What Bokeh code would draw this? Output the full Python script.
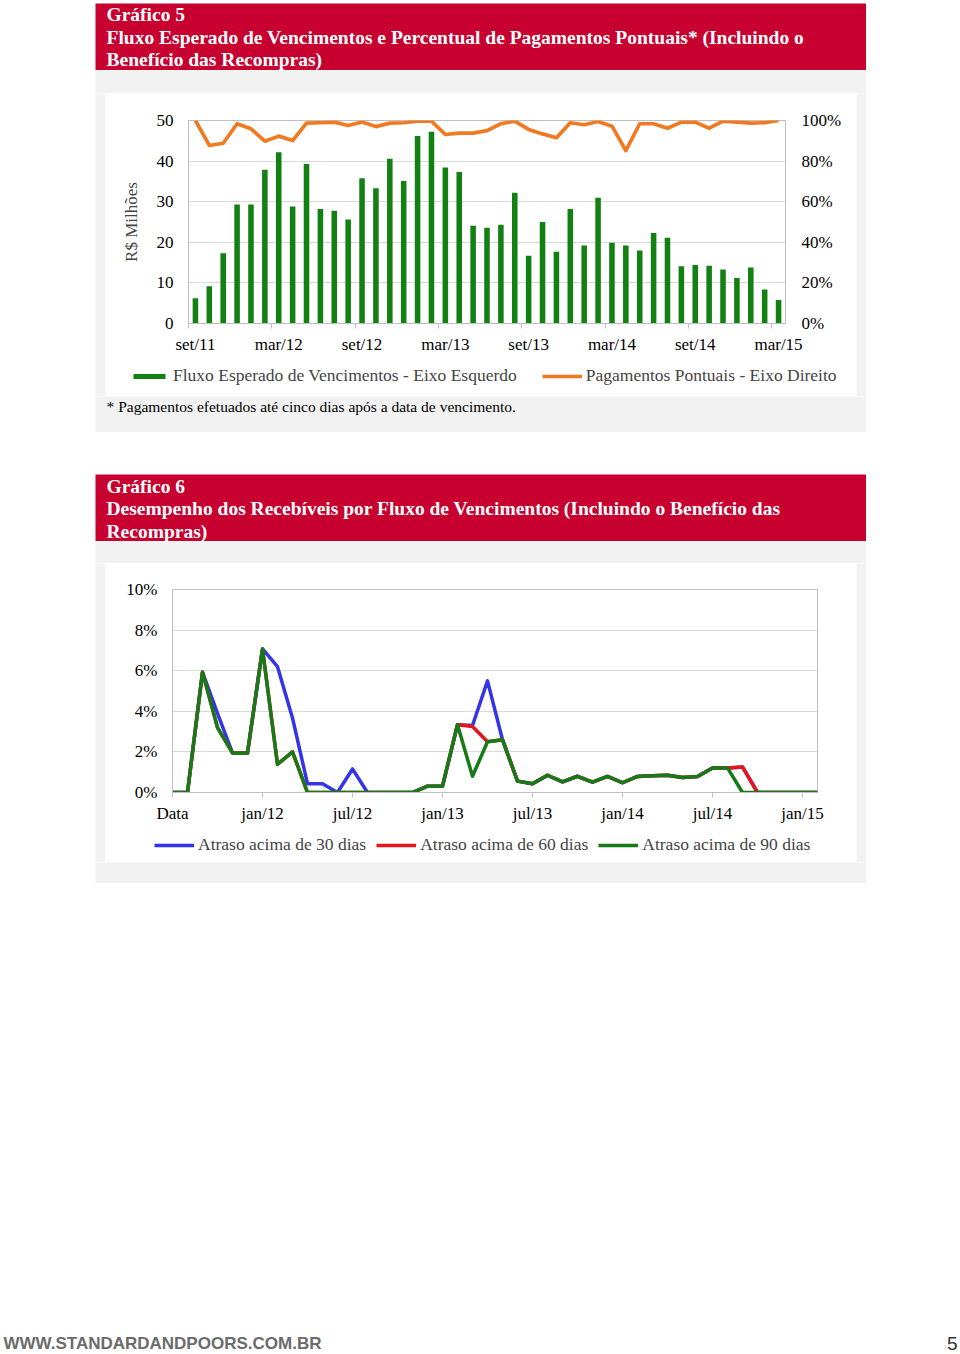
from bokeh.plotting import figure
from bokeh.models import (Range1d, LinearAxis, FixedTicker, PrintfTickFormatter, Legend,
                          LegendItem, Label, Spacer, ColumnDataSource)
from bokeh.layouts import column, row
from bokeh.embed import file_html
from bokeh.resources import INLINE
from bokeh.core.validation import silence
from bokeh.core.validation.warnings import MISSING_RENDERERS

silence(MISSING_RENDERERS, True)

# ---------------- data: Gráfico 5 ----------------
months_5 = ["set/11", "out/11", "nov/11", "dez/11", "jan/12", "fev/12", "mar/12", "abr/12", "mai/12",
            "jun/12", "jul/12", "ago/12", "set/12", "out/12", "nov/12", "dez/12", "jan/13", "fev/13",
            "mar/13", "abr/13", "mai/13", "jun/13", "jul/13", "ago/13", "set/13", "out/13", "nov/13",
            "dez/13", "jan/14", "fev/14", "mar/14", "abr/14", "mai/14", "jun/14", "jul/14", "ago/14",
            "set/14", "out/14", "nov/14", "dez/14", "jan/15", "fev/15", "mar/15"]
fluxo = [6.2, 9.2, 17.3, 29.3, 29.3, 37.9, 42.2, 28.8, 39.3, 28.2, 27.8, 25.6, 35.8, 33.3, 40.6,
         35.1, 46.2, 47.2, 38.4, 37.3, 24.1, 23.6, 24.3, 32.2, 16.7, 25.0, 17.7, 28.2, 19.2, 31.0,
         19.9, 19.2, 18.0, 22.3, 21.1, 14.1, 14.4, 14.2, 13.3, 11.2, 13.8, 8.4, 5.8]
pontuais = [100, 87.7, 88.8, 98.4, 95.9, 89.8, 92.3, 90.1, 98.7, 98.9, 99.2, 97.5, 99.3, 97.0, 98.7,
            98.9, 99.7, 99.7, 93.1, 93.8, 93.8, 95.0, 98.4, 99.7, 95.6, 93.4, 91.5, 98.9, 97.9, 99.5,
            97.2, 85.2, 98.4, 98.4, 96.2, 99.2, 99.2, 96.2, 99.7, 99.2, 98.7, 98.9, 100]
ticks_5 = ["set/11", "mar/12", "set/12", "mar/13", "set/13", "mar/14", "set/14", "mar/15"]

# ---------------- data: Gráfico 6 ----------------
ticks_6 = ["Data", "jan/12", "jul/12", "jan/13", "jul/13", "jan/14", "jul/14", "jan/15"]
atraso_30 = [0, 0, 5.93, 3.9, 1.95, 1.95, 7.07, 6.2, 3.67, 0.43, 0.43, 0, 1.16, 0, 0, 0, 0, 0.31,
             0.31, 3.34, 3.3, 5.5, 2.6, 0.56, 0.43, 0.85, 0.52, 0.80, 0.51, 0.79, 0.48, 0.79, 0.82,
             0.85, 0.74, 0.79, 1.21, 1.21, 1.26, 0, 0, 0, 0, 0]
atraso_60 = [0, 0, 5.93, 3.2, 1.95, 1.95, 7.07, 1.4, 2.0, 0, 0, 0, 0, 0, 0, 0, 0, 0.31,
             0.31, 3.34, 3.25, 2.5, 2.6, 0.56, 0.43, 0.85, 0.52, 0.80, 0.51, 0.79, 0.48, 0.79, 0.82,
             0.85, 0.74, 0.79, 1.21, 1.21, 1.26, 0, 0, 0, 0, 0]
atraso_90 = [0, 0, 5.93, 3.2, 1.95, 1.95, 7.07, 1.38, 2.0, 0, 0, 0, 0, 0, 0, 0, 0, 0.31,
             0.31, 3.34, 0.8, 2.5, 2.6, 0.56, 0.43, 0.85, 0.52, 0.80, 0.51, 0.79, 0.48, 0.79, 0.82,
             0.85, 0.74, 0.79, 1.21, 1.21, 0, 0, 0, 0, 0, 0]

# ---------------- styles ----------------
RED_HDR = "#C8002F"
GRAY = "#F2F2F2"
GRID = "#D9D9D9"
AXIS = "#BFBFBF"
GREEN_BAR = "#138013"
ORANGE = "#F07A22"
BLUE = "#3535E8"
RED = "#E8141B"
GREEN = "#167A16"
SERIF = "Liberation Serif"
FS = "17px"
FS_LEG = "17.5px"


def no_align(f):
    try:
        f.frame_align = False
    except Exception:
        pass


def panel_fig(w, h, color):
    f = figure(width=w, height=h, x_range=Range1d(0, w), y_range=Range1d(h, 0),
               x_axis_type=None, y_axis_type=None, toolbar_location=None,
               output_backend="svg", min_border=0)
    f.outline_line_color = None
    f.background_fill_color = color
    f.border_fill_color = color
    no_align(f)
    return f


def header(lines, h, ys):
    f = panel_fig(771, h, RED_HDR)
    for t, y in zip(lines, ys):
        f.add_layout(Label(x=11, y=y, text=t, text_font=SERIF, text_font_style="bold",
                           text_font_size="19.5px", text_color="white", text_baseline="middle"))
    return f


def style_axis(ax):
    ax.axis_line_color = AXIS
    ax.major_label_text_font = SERIF
    ax.major_label_text_font_size = FS
    ax.major_label_text_color = "black"
    ax.major_tick_line_color = AXIS
    ax.minor_tick_line_color = AXIS


def legend_fig(h, items_spec, loc, glyph_width, spacing):
    f = panel_fig(751, h, "white")
    items = []
    for label, kind, color in items_spec:
        # legend-only renderers: one point placed outside the visible range
        if kind == "bar":
            r = f.vbar(x=[-1000], top=[-1000], width=1, fill_color=color, line_color=None)
        else:
            r = f.line(x=[-1000, -999], y=[-1000, -1000], line_color=color, line_width=3.5)
        items.append(LegendItem(label=label, renderers=[r]))
    leg = Legend(items=items, orientation="horizontal", location=loc, label_text_font=SERIF,
                 label_text_font_size=FS_LEG, glyph_width=glyph_width, glyph_height=6,
                 label_height=20, label_standoff=4, spacing=spacing, margin=0, padding=0,
                 border_line_color=None, background_fill_alpha=0)
    f.add_layout(leg)
    return f


# ---------------- Gráfico 5 chart ----------------
n5 = len(fluxo)
src5 = ColumnDataSource(dict(x=list(range(n5)), fluxo=fluxo, pontuais=pontuais))
p1 = figure(width=751, height=267, x_range=Range1d(-0.5, n5 - 0.5), y_range=Range1d(0, 50),
            toolbar_location=None, output_backend="svg",
            min_border_left=83, min_border_right=71, min_border_top=27, min_border_bottom=37)
no_align(p1)
p1.extra_y_ranges = {"pct": Range1d(0, 100)}
p1.background_fill_color = "white"
p1.border_fill_color = "white"
p1.outline_line_color = AXIS
bars = p1.vbar(x="x", top="fluxo", width=0.4, source=src5, fill_color=GREEN_BAR, line_color=None)
ln = p1.line(x="x", y="pontuais", source=src5, y_range_name="pct", line_color=ORANGE,
             line_width=3.7, line_join="round")

style_axis(p1.xaxis[0])
p1.xaxis.ticker = FixedTicker(ticks=[i * 6 for i in range(len(ticks_5))],
                              minor_ticks=[i * 6 - 0.5 for i in range(len(ticks_5))])
p1.xaxis.major_label_overrides = {i * 6: t for i, t in enumerate(ticks_5)}
p1.xaxis.major_tick_out = 0
p1.xaxis.major_tick_in = 0
p1.xaxis.minor_tick_out = 5
p1.xaxis.minor_tick_in = 0
p1.xaxis.major_label_standoff = 6

style_axis(p1.yaxis[0])
p1.yaxis.ticker = FixedTicker(ticks=[0, 10, 20, 30, 40, 50])
p1.yaxis.major_tick_out = 0
p1.yaxis.major_tick_in = 0
p1.yaxis.minor_tick_line_color = None
p1.yaxis.major_label_standoff = 15
p1.yaxis.axis_label = "R$ Milhões"
p1.yaxis.axis_label_text_font = SERIF
p1.yaxis.axis_label_text_font_style = "normal"
p1.yaxis.axis_label_text_font_size = FS
p1.yaxis.axis_label_standoff = 13

ax_r = LinearAxis(y_range_name="pct", ticker=FixedTicker(ticks=[0, 20, 40, 60, 80, 100]),
                  formatter=PrintfTickFormatter(format="%d%%"))
style_axis(ax_r)
ax_r.major_tick_out = 0
ax_r.major_tick_in = 0
ax_r.minor_tick_line_color = None
ax_r.major_label_standoff = 16
p1.add_layout(ax_r, "right")

p1.xgrid.visible = False
p1.ygrid.grid_line_color = GRID

leg1 = legend_fig(36, [("Fluxo Esperado de Vencimentos - Eixo Esquerdo", "bar", GREEN_BAR),
                       ("Pagamentos Pontuais - Eixo Direito", "line", ORANGE)],
                  (24, 10), 40, 25)

# ---------------- Gráfico 6 chart ----------------
n6 = len(atraso_30)
src6 = ColumnDataSource(dict(x=list(range(n6)), a30=atraso_30, a60=atraso_60, a90=atraso_90))
p2 = figure(width=751, height=267, x_range=Range1d(0, n6 - 1), y_range=Range1d(0, 10),
            toolbar_location=None, output_backend="svg",
            min_border_left=67, min_border_right=39, min_border_top=26, min_border_bottom=38)
no_align(p2)
p2.background_fill_color = "white"
p2.border_fill_color = "white"
p2.outline_line_color = AXIS
l30 = p2.line(x="x", y="a30", source=src6, line_color=BLUE, line_width=3.5, line_join="round")
l60 = p2.line(x="x", y="a60", source=src6, line_color=RED, line_width=3.5, line_join="round")
l90 = p2.line(x="x", y="a90", source=src6, line_color=GREEN, line_width=3.5, line_join="round")

style_axis(p2.xaxis[0])
p2.xaxis.ticker = FixedTicker(ticks=[i * 6 for i in range(len(ticks_6))])
p2.xaxis.major_label_overrides = {i * 6: t for i, t in enumerate(ticks_6)}
p2.xaxis.major_tick_out = 5
p2.xaxis.major_tick_in = 0
p2.xaxis.minor_tick_line_color = None
p2.xaxis.major_label_standoff = 6

style_axis(p2.yaxis[0])
p2.yaxis.ticker = FixedTicker(ticks=[0, 2, 4, 6, 8, 10])
p2.yaxis.formatter = PrintfTickFormatter(format="%d%%")
p2.yaxis.major_tick_out = 0
p2.yaxis.major_tick_in = 0
p2.yaxis.minor_tick_line_color = None
p2.yaxis.major_label_standoff = 15
p2.xgrid.visible = False
p2.ygrid.grid_line_color = GRID

leg2 = legend_fig(32, [("Atraso acima de 30 dias", "line", BLUE),
                       ("Atraso acima de 60 dias", "line", RED),
                       ("Atraso acima de 90 dias", "line", GREEN)],
                  (49, 7), 40, 10)

# ---------------- page blocks ----------------
h1 = header(["Gráfico 5",
             "Fluxo Esperado de Vencimentos e Percentual de Pagamentos Pontuais* (Incluindo o",
             "Benefício das Recompras)"], 67, [11, 34, 56])
h2 = header(["Gráfico 6",
             "Desempenho dos Recebíveis por Fluxo de Vencimentos (Incluindo o Benefício das",
             "Recompras)"], 67, [12, 34, 57])

foot1 = panel_fig(771, 36, GRAY)
foot1.add_layout(Label(x=11, y=10, text="* Pagamentos efetuados até cinco dias após a data de vencimento.",
                       text_font=SERIF, text_font_size="15.5px", text_color="black",
                       text_baseline="middle"))

page_footer = panel_fig(960, 24, "white")
page_footer.add_layout(Label(x=3, y=14, text="WWW.STANDARDANDPOORS.COM.BR", text_font="Liberation Sans",
                             text_font_style="bold", text_font_size="17px", text_color="#6B6B6B",
                             text_baseline="middle"))
page_footer.add_layout(Label(x=957, y=14, text="5", text_font="Liberation Sans",
                             text_font_size="19px", text_color="#333333", text_baseline="middle",
                             text_align="right"))

block = column(
    Spacer(width=771, height=3),
    h1,
    panel_fig(771, 23, GRAY),
    row(panel_fig(10, 303, GRAY), column(p1, leg1), panel_fig(10, 303, GRAY)),
    foot1,
    Spacer(width=771, height=42),
    h2,
    panel_fig(771, 22, GRAY),
    row(panel_fig(10, 299, GRAY), column(p2, leg2), panel_fig(10, 299, GRAY)),
    panel_fig(771, 21, GRAY),
)

page = column(
    row(Spacer(width=95, height=10), block),
    Spacer(width=960, height=446),
    page_footer,
)

open("out.html", "w").write(file_html(page, INLINE))
